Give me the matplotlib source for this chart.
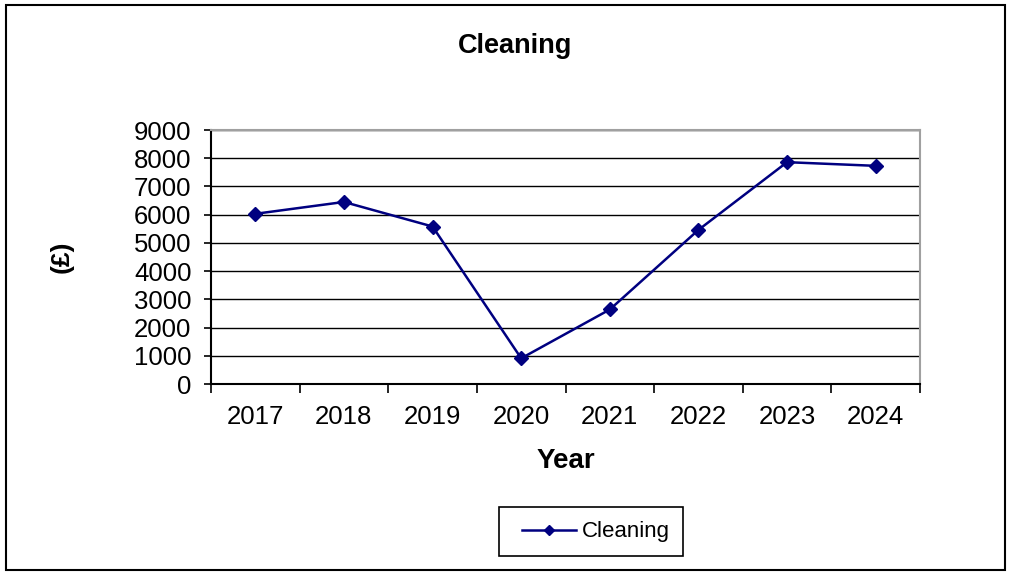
import matplotlib

matplotlib.use("Agg")
import matplotlib.pyplot as plt
from matplotlib.patches import Rectangle
from matplotlib.ticker import FixedLocator, MultipleLocator

plt.rcParams["font.family"] = ["Liberation Sans", "DejaVu Sans"]

YEARS = ["2017", "2018", "2019", "2020", "2021", "2022", "2023", "2024"]
CLEANING = [6030, 6450, 5580, 910, 2640, 5460, 7860, 7730]

LINE_COLOR = "#000080"

fig = plt.figure(figsize=(10.1, 5.72), dpi=100)
ax = fig.add_axes([211 / 1010, 1 - 384 / 572, (920 - 211) / 1010, (384 - 130) / 572])

x = list(range(len(YEARS)))
ax.plot(
    x,
    CLEANING,
    color=LINE_COLOR,
    linewidth=1.8,
    marker="D",
    markersize=7.5,
    label="Cleaning",
)

ax.set_xlim(-0.5, len(YEARS) - 0.5)
ax.set_ylim(0, 9000)
ax.yaxis.set_major_locator(MultipleLocator(1000))
ax.grid(axis="y", color="black", linewidth=1.0)
ax.set_axisbelow(True)

# category labels sit between the tick marks
ax.set_xticks(x)
ax.set_xticklabels(YEARS)
ax.xaxis.set_minor_locator(FixedLocator([i - 0.5 for i in range(len(YEARS) + 1)]))
ax.tick_params(axis="x", which="major", length=0, labelsize=18.5, pad=15)
ax.tick_params(axis="x", which="minor", length=6.5, width=1.2, direction="out")
ax.tick_params(axis="y", length=5, width=1.2, labelsize=18.5, pad=9)

for side in ("top", "right"):
    ax.spines[side].set_color("#a0a0a0")
    ax.spines[side].set_linewidth(1.5)
for side in ("left", "bottom"):
    ax.spines[side].set_color("black")
    ax.spines[side].set_linewidth(1.5)

ax.set_xlabel("Year", fontsize=20, fontweight="bold", labelpad=14)
fig.text(62 / 1010, 1 - 257 / 572, "(£)", rotation=90, fontsize=19,
         fontweight="bold", ha="center", va="center")
fig.text(515 / 1010, 1 - 46 / 572, "Cleaning", fontsize=19.5,
         fontweight="bold", ha="center", va="center")

# legend entry without its own frame; the box is drawn separately
fig.legend(
    loc="center",
    bbox_to_anchor=(596 / 1010, 1 - 532 / 572),
    borderaxespad=0,
    fontsize=16,
    frameon=False,
    handlelength=2.45,
    handletextpad=0.25,
    markerscale=0.7,
)
fig.patches.append(
    Rectangle((499 / 1010, 1 - 556 / 572), 184 / 1010, 49 / 572,
              transform=fig.transFigure, fill=False,
              edgecolor="black", linewidth=1.2)
)

fig.patches.append(
    Rectangle((6 / 1010, 2 / 572), 999 / 1010, 565 / 572,
              transform=fig.transFigure, fill=False,
              edgecolor="black", linewidth=1.5)
)

fig.savefig("out.png", dpi=100)
